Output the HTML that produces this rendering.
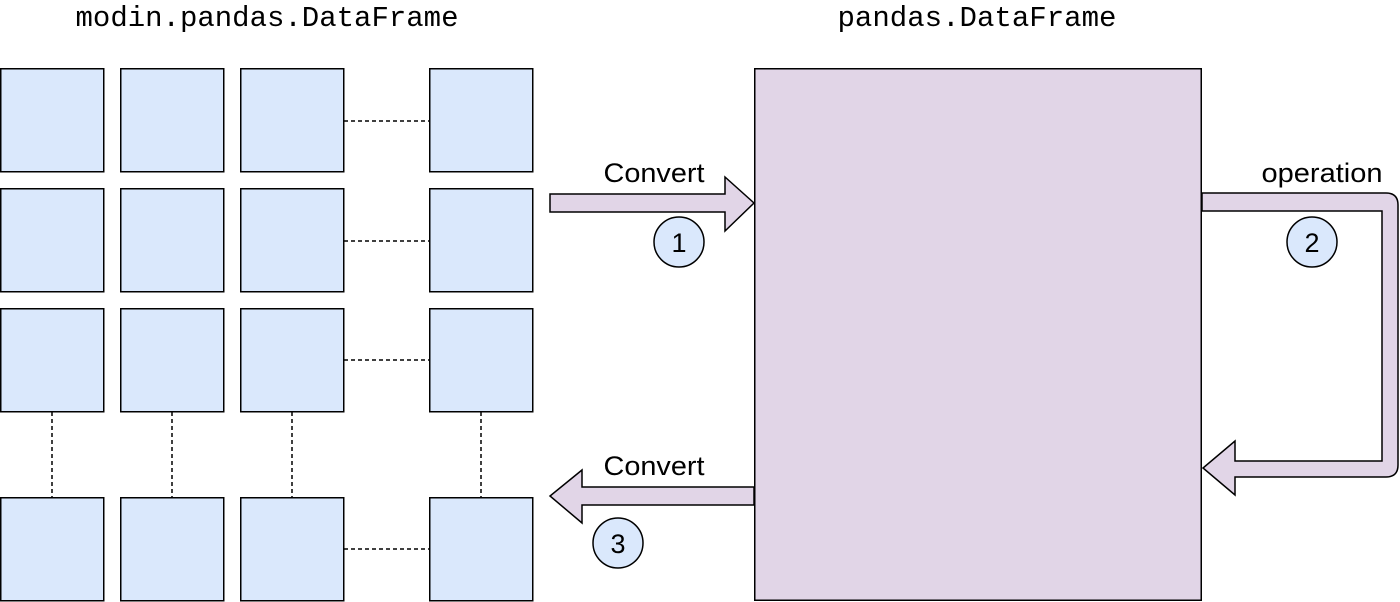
<!DOCTYPE html>
<html><head><style>body{margin:0;background:#fff}svg{display:block}</style></head><body>
<svg width="1400" height="602" viewBox="0 0 1400 602" xmlns="http://www.w3.org/2000/svg">
<g font-family="Liberation Mono, monospace" font-size="29" fill="#000" text-anchor="middle">
<text x="267" y="26" textLength="383" lengthAdjust="spacingAndGlyphs">modin.pandas.DataFrame</text>
<text x="977" y="26" textLength="279" lengthAdjust="spacingAndGlyphs">pandas.DataFrame</text>
</g>
<g fill="#dae8fc" stroke="#000" stroke-width="1.5">
<rect x="0.75" y="68.75" width="103" height="103"/><rect x="120.75" y="68.75" width="103" height="103"/><rect x="240.75" y="68.75" width="103" height="103"/><rect x="429.75" y="68.75" width="103" height="103"/>
<rect x="0.75" y="188.75" width="103" height="103"/><rect x="120.75" y="188.75" width="103" height="103"/><rect x="240.75" y="188.75" width="103" height="103"/><rect x="429.75" y="188.75" width="103" height="103"/>
<rect x="0.75" y="308.75" width="103" height="103"/><rect x="120.75" y="308.75" width="103" height="103"/><rect x="240.75" y="308.75" width="103" height="103"/><rect x="429.75" y="308.75" width="103" height="103"/>
<rect x="0.75" y="497.75" width="103" height="103"/><rect x="120.75" y="497.75" width="103" height="103"/><rect x="240.75" y="497.75" width="103" height="103"/><rect x="429.75" y="497.75" width="103" height="103"/>
</g>
<g stroke="#000" stroke-width="1.5" stroke-dasharray="4 3" fill="none">
<line x1="344" y1="121" x2="430" y2="121"/><line x1="344" y1="241" x2="430" y2="241"/><line x1="344" y1="360" x2="430" y2="360"/><line x1="344" y1="549" x2="430" y2="549"/>
<line x1="52" y1="412" x2="52" y2="497"/><line x1="172" y1="412" x2="172" y2="497"/><line x1="292" y1="412" x2="292" y2="497"/><line x1="481" y1="412" x2="481" y2="497"/>
</g>
<rect x="754.75" y="68.75" width="446.5" height="531.5" fill="#e1d5e7" stroke="#000" stroke-width="1.5"/>
<g fill="#e1d5e7" stroke="#000" stroke-width="1.5" stroke-linejoin="miter">
<path d="M550 194 H725 V177 L754 203 L725 231 V212 H550 Z"/>
<path d="M1202 193 H1386 Q1398 193 1398 205 V465 Q1398 477 1386 477 H1235 V495 L1203 468 L1235 441 V461 H1382 V211 H1202 Z"/>
<path d="M754 487 H582 V470 L550 496 L582 523 V505 H754 Z"/>
</g>
<g fill="#dae8fc" stroke="#000" stroke-width="1.5">
<circle cx="679" cy="242" r="25"/><circle cx="1312" cy="242" r="25"/><circle cx="618" cy="543" r="25"/>
</g>
<g font-family="Liberation Sans, sans-serif" font-size="27" fill="#000" text-anchor="middle">
<text x="679" y="252">1</text><text x="1312" y="252">2</text><text x="618" y="553">3</text>
<text x="654" y="182" textLength="101" lengthAdjust="spacingAndGlyphs">Convert</text>
<text x="1322" y="182" textLength="121" lengthAdjust="spacingAndGlyphs">operation</text>
<text x="654" y="475" textLength="101" lengthAdjust="spacingAndGlyphs">Convert</text>
</g>
</svg>
</body></html>
